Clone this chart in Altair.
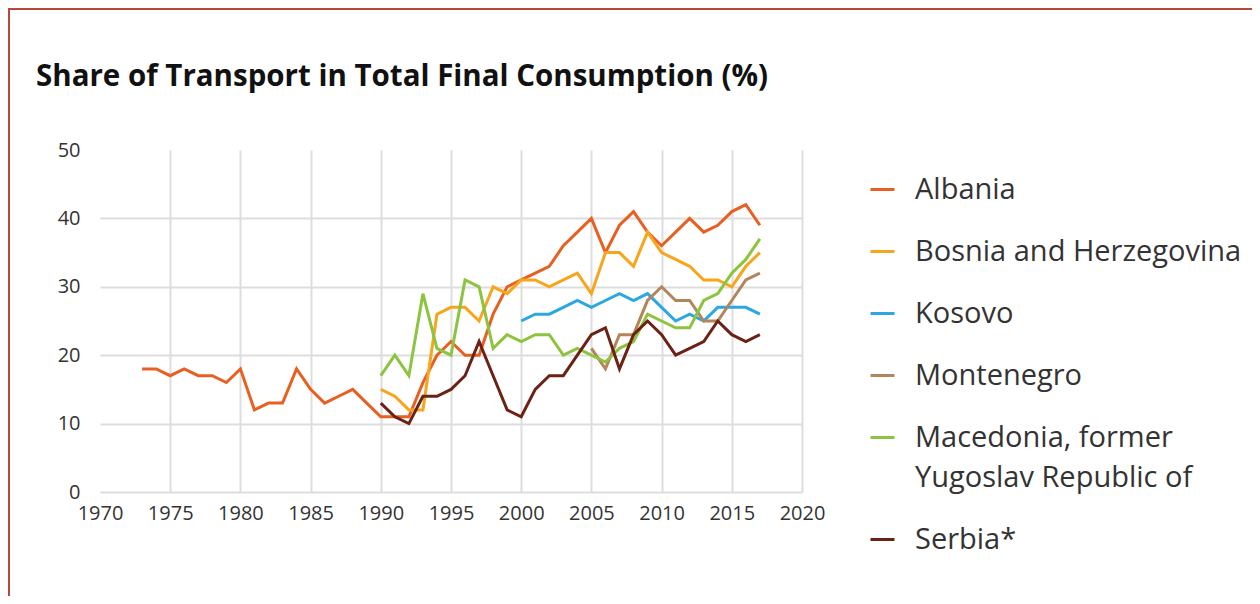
import altair as alt
import pandas as pd

countries = ["Albania", "Bosnia and Herzegovina", "Kosovo", "Montenegro",
             "Macedonia, former Yugoslav Republic of", "Serbia*"]
colors = ["#e95f22", "#f8a51c", "#2ba8e2", "#b3855a", "#8cc43f", "#6b2215"]

title_text = "Share of Transport in Total Final Consumption (%)"

albania_years = list(range(1973, 2018))
albania = [18, 18, 17, 18, 17, 17, 16, 18, 12, 13, 13, 18, 15, 13, 14, 15, 13,
           11, 11, 11, 16, 20, 22, 20, 20, 26, 30, 31, 32, 33, 36, 38, 40, 35,
           39, 41, 38, 36, 38, 40, 38, 39, 41, 42, 39]

bosnia_years = list(range(1990, 2018))
bosnia = [15, 14, 12, 12, 26, 27, 27, 25, 30, 29, 31, 31, 30, 31, 32, 29, 35,
          35, 33, 38, 35, 34, 33, 31, 31, 30, 33, 35]

kosovo_years = list(range(2000, 2018))
kosovo = [25, 26, 26, 27, 28, 27, 28, 29, 28, 29, 27, 25, 26, 25, 27, 27, 27, 26]

montenegro_years = list(range(2005, 2018))
montenegro = [21, 18, 23, 23, 28, 30, 28, 28, 25, 25, 28, 31, 32]

macedonia_years = list(range(1990, 2018))
macedonia = [17, 20, 17, 29, 21, 20, 31, 30, 21, 23, 22, 23, 23, 20, 21, 20, 19,
             21, 22, 26, 25, 24, 24, 28, 29, 32, 34, 37]

serbia_years = list(range(1990, 2018))
serbia = [13, 11, 10, 14, 14, 15, 17, 22, 17, 12, 11, 15, 17, 17, 20, 23, 24,
          18, 23, 25, 23, 20, 21, 22, 25, 23, 22, 23]

x_ticks = [1970, 1975, 1980, 1985, 1990, 1995, 2000, 2005, 2010, 2015, 2020]
y_ticks = [0, 10, 20, 30, 40, 50]

series = [
    (countries[0], albania_years, albania),
    (countries[1], bosnia_years, bosnia),
    (countries[2], kosovo_years, kosovo),
    (countries[3], montenegro_years, montenegro),
    (countries[4], macedonia_years, macedonia),
    (countries[5], serbia_years, serbia),
]
rows = []
for name, yrs, vals in series:
    for yr, v in zip(yrs, vals):
        rows.append({"country": name, "year": yr, "value": v})
df = pd.DataFrame(rows)

FONT = "Open Sans"
PW, PH = 702, 342
PAD_L, PAD_T = 92, 142
TOTAL_W, TOTAL_H = 1244, 588

lines = alt.Chart(df).mark_line(strokeWidth=3, strokeJoin="miter").encode(
    x=alt.X("year:Q",
            scale=alt.Scale(domain=[1970, 2020], nice=False, zero=False),
            axis=alt.Axis(values=x_ticks, format="d", title=None, ticks=False,
                          domain=False, labelPadding=11, labelFontSize=20,
                          labelFlush=False,
                          labelColor="#333333", labelFont=FONT,
                          gridColor="#dddddd", gridWidth=2,
                          gridOpacity=alt.condition("datum.value == 1970", alt.value(0), alt.value(1)))),
    y=alt.Y("value:Q",
            scale=alt.Scale(domain=[0, 50], nice=False),
            axis=alt.Axis(values=y_ticks, title=None, ticks=False, domain=False,
                          labelPadding=20, labelFontSize=20, labelColor="#333333",
                          labelFont=FONT, gridColor="#dddddd", gridWidth=2,
                          gridOpacity=alt.condition("datum.value == 50", alt.value(0), alt.value(1)))),
    color=alt.Color("country:N",
                    scale=alt.Scale(domain=countries, range=colors),
                    legend=alt.Legend(
                        title=None, orient="none", legendX=768, legendY=25,
                        symbolType="stroke", symbolSize=576, symbolStrokeWidth=3,
                        labelFontSize=29, labelFont=FONT, labelColor="#333333",
                        labelLimit=500, labelOffset=18, rowPadding=32,
                        labelExpr="datum.label == 'Macedonia, former Yugoslav Republic of' ? ['Macedonia, former', 'Yugoslav Republic of'] : datum.label")),
    detail="country:N",
)

one = pd.DataFrame({"k": [0]})
frame_left = alt.Chart(one).mark_rule(color="#b9473f", strokeWidth=2).encode(
    x=alt.value(-PAD_L + 1), y=alt.value(-PAD_T), y2=alt.value(TOTAL_H - PAD_T))
frame_top = alt.Chart(one).mark_rule(color="#b9473f", strokeWidth=2).encode(
    x=alt.value(-PAD_L), x2=alt.value(TOTAL_W - PAD_L), y=alt.value(-PAD_T + 1))
title = alt.Chart(one).mark_text(
    align="left", baseline="alphabetic", font=FONT, fontWeight="bold",
    fontSize=29.5, color="#111111").encode(
    x=alt.value(-64), y=alt.value(-64), text=alt.value(title_text))

chart = alt.layer(lines, frame_left, frame_top, title).properties(
    width=PW, height=PH,
    background="white",
    autosize=alt.AutoSizeParams(type="none"),
    padding={"left": PAD_L, "top": PAD_T, "right": TOTAL_W - PAD_L - PW,
             "bottom": TOTAL_H - PAD_T - PH},
).configure(style={"guide-label": {"lineHeight": 40}}).configure_view(stroke=None)

chart.save("out.html", embed_options={"renderer": "svg", "actions": False})
